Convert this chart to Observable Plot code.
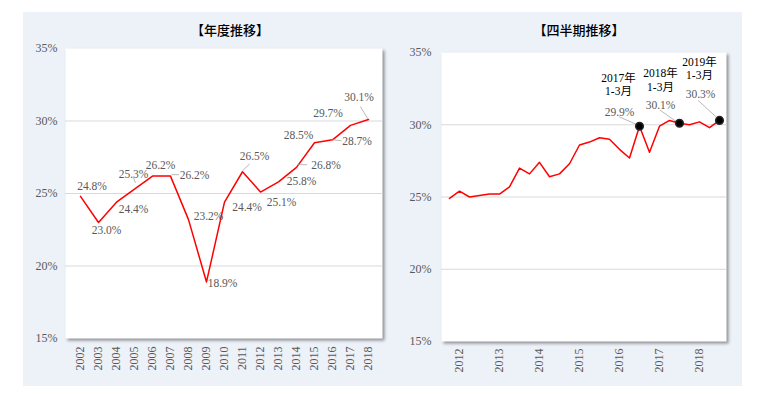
<!DOCTYPE html>
<html><head><meta charset="utf-8">
<script src="https://cdn.jsdelivr.net/npm/d3@7"></script>
<script src="https://cdn.jsdelivr.net/npm/@observablehq/plot@0.6"></script>
<style>
html,body{margin:0;padding:0;background:#fff;}
#page{position:relative;width:761px;height:393px;overflow:hidden;background:#fff;}
#bg{position:absolute;left:23px;top:12px;width:719px;height:374px;background:#edf1f8;}
.title{position:absolute;top:21px;font-family:"Noto Sans CJK JP";font-size:13px;font-weight:500;color:#000;transform:translateX(-50%);white-space:nowrap;line-height:18px;}
.chart{position:absolute;top:40px;}
</style></head>
<body><div id="page"><div id="bg"></div>
<div class="title" style="left:230px">【年度推移】</div>
<div class="title" style="left:579px">【四半期推移】</div>
<div class="chart" id="c1" style="left:22px"></div>
<div class="chart" id="c2" style="left:392px"></div>
</div>
<script>
// ---------- data ----------
const years = [2002,2003,2004,2005,2006,2007,2008,2009,2010,2011,2012,2013,2014,2015,2016,2017,2018];
const annualRates = [24.8,23.0,24.4,25.3,26.2,26.2,23.2,18.9,24.4,26.5,25.1,25.8,26.8,28.5,28.7,29.7,30.1];

const quarters = [
  "2012年4-6月","2012年7-9月","2012年10-12月",
  "2013年1-3月","2013年4-6月","2013年7-9月","2013年10-12月",
  "2014年1-3月","2014年4-6月","2014年7-9月","2014年10-12月",
  "2015年1-3月","2015年4-6月","2015年7-9月","2015年10-12月",
  "2016年1-3月","2016年4-6月","2016年7-9月","2016年10-12月",
  "2017年1-3月","2017年4-6月","2017年7-9月","2017年10-12月",
  "2018年1-3月","2018年4-6月","2018年7-9月","2018年10-12月",
  "2019年1-3月"
];
const quarterlyRates = [24.9,25.4,25.0,25.1,25.2,25.2,25.7,27.0,26.6,27.4,26.4,26.6,27.3,28.6,28.8,29.1,29.0,28.3,27.7,29.9,28.1,29.9,30.3,30.1,30.0,30.2,29.8,30.3];

const yearTickQuarters = ["2012年7-9月","2013年7-9月","2014年7-9月","2015年7-9月","2016年7-9月","2017年7-9月","2018年7-9月"];
const yearTickLabels = ["2012","2013","2014","2015","2016","2017","2018"];

const highlightQuarters = ["2017年1-3月","2018年1-3月","2019年1-3月"];
const highlightNames = ["2017年\n1-3月","2018年\n1-3月","2019年\n1-3月"];

const yTicks = [15,20,25,30,35];
const gridValues = [20,25,30];

// ---------- tables ----------
const annual = years.map((year, i) => ({year, rate: annualRates[i]}));
const quarterly = quarters.map((q, i) => ({q, rate: quarterlyRates[i]}));
const highlights = highlightQuarters.map((q, i) => ({q, name: highlightNames[i], rate: quarterlyRates[quarters.indexOf(q)]}));

// ---------- layout (label offsets in pixels) ----------
const annualLabelOffsets = [
  [11.5,-10],[8,8],[17,7],[-1,-15],[8,-11],[24,-1],[20,-3],[16,1.5],[22.5,5],
  [12,-15.5],[21,10],[23,-1],[29.5,-2],[-16,-7.5],[24.5,1.5],[-22.5,-12],[-9.5,-22]
];
const annualLeaders = {2005:[[-0.3,-10.7],[1.4,-5.7]],2007:[[1.4,-0.9],[9,-0.9]],2011:[[0.5,-0.5],[7.8,-7.5]],
  2014:[[1.2,-2.2],[11.2,-2.2]],2016:[[0.6,0.4],[9.6,1.4]],2018:[[-7.7,-12.6],[0,0]]};
const hlValueOffsets = [[-20,-14],[-19,-18.3],[-19,-26]];
const hlNameOffsets = [[-21,-42.3],[-19,-43.5],[-20,-52]];
const hlLeaders = [[[-20,-9],[-2.6,-1.3]],[[-19,-12.7],[-2.4,-1]],[[-20.7,-19.3],[-2.4,-2.6]]];

const baseStyle = {background:"transparent", fontFamily:"'Liberation Serif','Noto Sans CJK JP',serif", fontSize:"12px", color:"#595959", overflow:"visible"};
const pct = d => d.toFixed(1) + "%";

function leaderMark(items, xKey) {
  return (index, scales) => {
    const g = d3.create("svg:g").attr("stroke", "#a6a6a6").attr("stroke-width", 0.8);
    for (const it of items) {
      const px = scales.x(it[xKey]), py = scales.y(it.rate);
      g.append("line").attr("x1", px + it.from[0]).attr("y1", py + it.from[1])
        .attr("x2", px + it.to[0]).attr("y2", py + it.to[1]);
    }
    return g.node();
  };
}

function addShadow(svg) {
  const fr = svg.querySelector('[aria-label="frame"] rect') || svg.querySelector('[aria-label="frame"]');
  if (fr) fr.style.filter = "drop-shadow(2px 2px 1.5px rgba(0,0,0,0.4))";
}

// ---------- left chart ----------
const leftLeaders = annual.filter(d => annualLeaders[d.year]).map(d => ({...d, from: annualLeaders[d.year][0], to: annualLeaders[d.year][1]}));
const left = Plot.plot({
  width: 363, height: 345,
  marginLeft: 43, marginRight: 3, marginTop: 8, marginBottom: 47,
  style: baseStyle,
  x: {type: "point", domain: years, padding: 0.5, label: null},
  y: {domain: [15, 35], label: null},
  marks: [
    Plot.frame({fill: "white", stroke: "none"}),
    Plot.ruleY(gridValues, {stroke: "#d9d9d9", strokeWidth: 1}),
    Plot.axisY({ticks: yTicks, tickFormat: d => d + "%", tickSize: 0, tickPadding: 8, label: null}),
    Plot.axisX({ticks: years, tickFormat: d => String(d), tickRotate: -90, tickSize: 0, tickPadding: 8, label: null}),
    Plot.line(annual, {x: "year", y: "rate", stroke: "#ff0000", strokeWidth: 1.5}),
    leaderMark(leftLeaders, "year"),
    ...annual.map((d, i) => Plot.text([d], {x: "year", y: "rate", text: d => pct(d.rate), dx: annualLabelOffsets[i][0], dy: annualLabelOffsets[i][1], fill: "#595959", fontSize: 11.5}))
  ]
});
addShadow(left);
document.getElementById("c1").appendChild(left);

// ---------- right chart ----------
const rightLeaders = highlights.map((d, i) => ({...d, from: hlLeaders[i][0], to: hlLeaders[i][1]}));
const right = Plot.plot({
  width: 350, height: 345,
  marginLeft: 49, marginRight: 16, marginTop: 12, marginBottom: 44,
  style: baseStyle,
  x: {type: "point", domain: quarters, padding: 0.5, label: null},
  y: {domain: [15, 35], label: null},
  marks: [
    Plot.frame({fill: "white", stroke: "none"}),
    Plot.ruleY(gridValues, {stroke: "#d9d9d9", strokeWidth: 1}),
    Plot.axisY({ticks: yTicks, tickFormat: d => d + "%", tickSize: 0, tickPadding: 10, label: null}),
    Plot.axisX({ticks: yearTickQuarters, tickFormat: d => yearTickLabels[yearTickQuarters.indexOf(d)], tickRotate: -90, tickSize: 0, tickPadding: 7, label: null}),
    Plot.line(quarterly, {x: "q", y: "rate", stroke: "#ff0000", strokeWidth: 1.5}),
    leaderMark(rightLeaders, "q"),
    Plot.dot(highlights, {x: "q", y: "rate", r: 3.8, fill: "#000", stroke: "#222"}),
    ...highlights.map((d, i) => Plot.text([d], {x: "q", y: "rate", text: d => pct(d.rate), dx: hlValueOffsets[i][0], dy: hlValueOffsets[i][1], fill: "#595959", fontSize: 11.5})),
    ...highlights.map((d, i) => Plot.text([d], {x: "q", y: "rate", text: "name", dx: hlNameOffsets[i][0], dy: hlNameOffsets[i][1], fill: "#000", fontSize: 11.5, lineHeight: 1.16}))
  ]
});
addShadow(right);
document.getElementById("c2").appendChild(right);
</script>
</body></html>
